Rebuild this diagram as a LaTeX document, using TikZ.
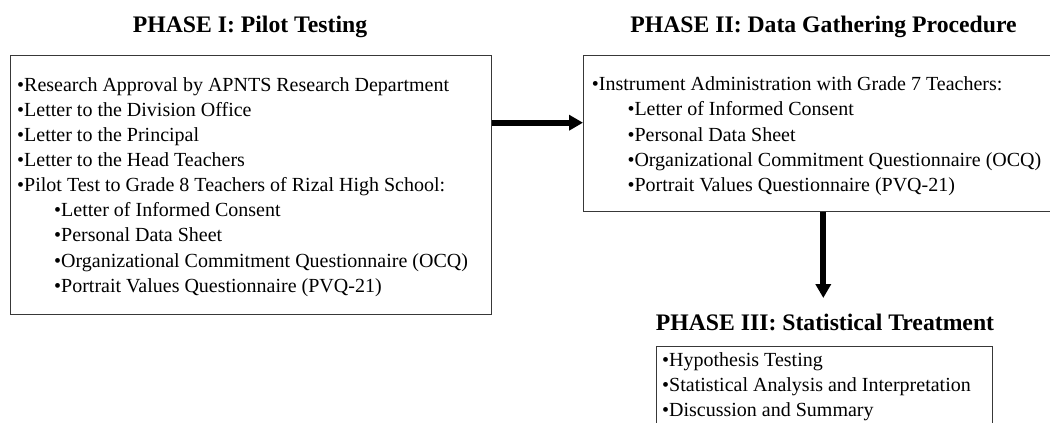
\documentclass[tikz,border=0pt]{standalone}
\usepackage{fontspec}
\setmainfont{Liberation Serif}
\usetikzlibrary{arrows.meta}
\tikzset{
  box/.style={draw=black!78, line width=1.2pt, rectangle, inner sep=0pt, anchor=north west},
  txt/.style={anchor=base west, inner sep=0pt, font=\fontsize{20}{24}\selectfont},
  ttl/.style={anchor=base, inner sep=0pt, font=\fontsize{23.7}{28}\selectfont\bfseries},
  arr/.style={line width=6pt, -{Triangle[length=14pt,width=15pt]}}
}
\begin{document}
\begin{tikzpicture}[x=1pt,y=-1pt]
\useasboundingbox (0,0) rectangle (1050,423);
\clip (0,0) rectangle (1050,423);
% boxes
\node[box, minimum width=481pt, minimum height=259pt] (box1) at (10,55) {};
\node[box, minimum width=480pt, minimum height=156pt] (box2) at (583,55) {};
\node[box, minimum width=336pt, minimum height=90pt] (box3) at (656,346) {};
% titles
\node[ttl] (t1) at (250,32.5) {PHASE I: Pilot Testing};
\node[ttl] (t2) at (823.5,32.5) {PHASE II: Data Gathering Procedure};
\node[ttl] (t3) at (825,330.5) {PHASE III: Statistical Treatment};
% box 1 text
\node[txt] (a1) at (17,91) {\textbullet Research Approval by APNTS Research Department};
\node[txt] (a2) at (17,116.2) {\textbullet Letter to the Division Office};
\node[txt] (a3) at (17,141.3) {\textbullet Letter to the Principal};
\node[txt] (a4) at (17,166.5) {\textbullet Letter to the Head Teachers};
\node[txt] (a5) at (17,191.6) {\textbullet Pilot Test to Grade 8 Teachers of Rizal High School:};
\node[txt] (a6) at (54,216.8) {\textbullet Letter of Informed Consent};
\node[txt] (a7) at (54,241.9) {\textbullet Personal Data Sheet};
\node[txt] (a8) at (54,267.1) {\textbullet Organizational Commitment Questionnaire (OCQ)};
\node[txt] (a9) at (54,292.2) {\textbullet Portrait Values Questionnaire (PVQ-21)};
% box 2 text
\node[txt] (b1) at (591.7,90.5) {\textbullet Instrument Administration with Grade 7 Teachers:};
\node[txt] (b2) at (627.3,115.8) {\textbullet Letter of Informed Consent};
\node[txt] (b3) at (627.3,141.1) {\textbullet Personal Data Sheet};
\node[txt] (b4) at (627.3,166.4) {\textbullet Organizational Commitment Questionnaire (OCQ)};
\node[txt] (b5) at (627.3,191.7) {\textbullet Portrait Values Questionnaire (PVQ-21)};
% box 3 text
\node[txt] (c1) at (662,366) {\textbullet Hypothesis Testing};
\node[txt] (c2) at (662,391) {\textbullet Statistical Analysis and Interpretation};
\node[txt] (c3) at (662,416) {\textbullet Discussion and Summary};
% arrows
\coordinate (p1) at (0,122.7);
\coordinate (p2) at (823.3,0);
\coordinate (tip2) at (823.3,298);
\draw[arr] (box1.east |- p1) -- (box2.west |- p1);
\draw[arr] (box2.south -| p2) -- (tip2);
\end{tikzpicture}
\end{document}
